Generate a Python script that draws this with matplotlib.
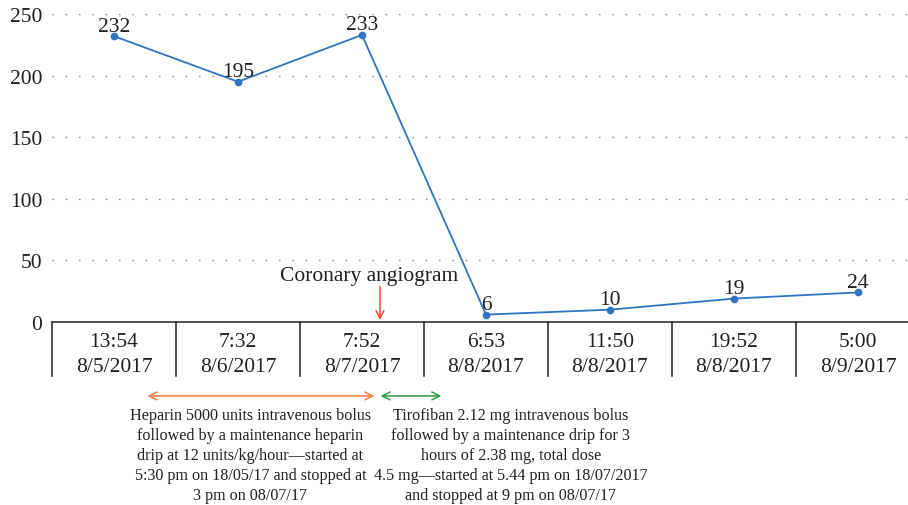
import numpy as np
import matplotlib
matplotlib.use("Agg")
import matplotlib.pyplot as plt

plt.rcParams['font.family'] = ['Liberation Serif', 'DejaVu Serif']

# --- data -------------------------------------------------------------------
times = ["13:54", "7:32", "7:52", "6:53", "11:50", "19:52", "5:00"]
dates = ["8/5/2017", "8/6/2017", "8/7/2017", "8/8/2017", "8/8/2017", "8/8/2017", "8/9/2017"]
platelets = [232, 195, 233, 6, 10, 19, 24]
y_ticks = [0, 50, 100, 150, 200, 250]

heparin_text = ("Heparin 5000 units intravenous bolus\n"
                "followed by a maintenance heparin\n"
                "drip at 12 units/kg/hour\u2014started at\n"
                "5:30 pm on 18/05/17 and stopped at\n"
                "3 pm on 08/07/17")
tirofiban_text = ("Tirofiban 2.12 mg intravenous bolus\n"
                  "followed by a maintenance drip for 3\n"
                  "hours of 2.38 mg, total dose\n"
                  "4.5 mg\u2014started at 5.44 pm on 18/07/2017\n"
                  "and stopped at 9 pm on 08/07/17")

TXT = "#231f20"
BLUE = "#2f74c0"
FS = 15.5

fig = plt.figure(figsize=(9.08, 5.06), dpi=100)
# axes extends a little past the right edge, like the original crop
ax = fig.add_axes([52 / 908, (506 - 323) / 506, 868 / 908, 308 / 506])

x = np.arange(len(platelets))
ax.plot(x, platelets, color=BLUE, lw=1.3, marker="o", ms=4.5, zorder=3)
for xi, v in zip(x, platelets):
    ax.text(xi, v + 0.5, str(v), ha="center", va="bottom", fontsize=FS, color=TXT)

ax.set_xlim(-0.5, len(platelets) - 0.5)
ax.set_ylim(0, 250)
ax.set_yticks(y_ticks)
ax.tick_params(axis="y", length=0, labelsize=FS, labelcolor=TXT, pad=7)
ax.set_xticks([])
for yv in y_ticks[1:]:
    ax.axhline(yv, color="#7a7a7a", lw=1.0, ls=(0, (1, 8.6)), zorder=1)
for s in ["top", "right", "left"]:
    ax.spines[s].set_visible(False)
ax.spines["bottom"].set_color(TXT)
ax.spines["bottom"].set_linewidth(1.1)

# table-like category axis
for b in np.arange(len(platelets) + 1) - 0.5:
    ax.plot([b, b], [0, -44], color=TXT, lw=1.1, clip_on=False)
for xi, t, d in zip(x, times, dates):
    ax.text(xi, -15.5, t, ha="center", va="center", fontsize=FS, color=TXT)
    ax.text(xi, -36, d, ha="center", va="center", fontsize=FS, color=TXT)

# coronary angiogram marker
ax.text(2.06, 37.5, "Coronary angiogram", ha="center", va="center", fontsize=FS, color=TXT)
ax.annotate("", xy=(2.145, 1.5), xytext=(2.145, 28.5),
            arrowprops=dict(arrowstyle="->", color="#ef4b2a", lw=1.1, mutation_scale=14,
                            shrinkA=0, shrinkB=0),
            annotation_clip=False)

# treatment periods
ax.annotate("", xy=(0.27, -60), xytext=(2.10, -60),
            arrowprops=dict(arrowstyle="<->", color="#f07b3b", lw=1.1, mutation_scale=14,
                            shrinkA=0, shrinkB=0),
            annotation_clip=False)
ax.annotate("", xy=(2.15, -60), xytext=(2.64, -60),
            arrowprops=dict(arrowstyle="<->", color="#2e9a3c", lw=1.1, mutation_scale=14,
                            shrinkA=0, shrinkB=0),
            annotation_clip=False)
ax.text(1.1, -69, heparin_text, ha="center", va="top", fontsize=11.6,
        linespacing=1.33, color=TXT, clip_on=False)
ax.text(3.2, -69, tirofiban_text, ha="center", va="top", fontsize=11.6,
        linespacing=1.33, color=TXT, clip_on=False)

fig.savefig("out.png", dpi=100)
